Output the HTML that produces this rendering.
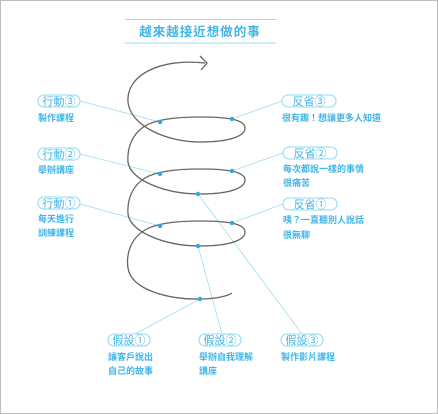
<!DOCTYPE html>
<html><head><meta charset="utf-8"><style>
html,body{margin:0;padding:0;background:#fff}
svg{display:block}
text{font-family:"Liberation Sans","Noto Sans CJK TC",sans-serif;fill:#3fb6e8}
.p{fill:#fff;stroke:#8fd8f5;stroke-width:1}
.l{stroke:#9fdcf4;stroke-width:0.8;fill:none}
.d{fill:#2aa9e6}
.t{font-size:9px;font-weight:bold}
.h{font-size:11px}
</style></head><body>
<svg width="438" height="414" viewBox="0 0 438 414">
<rect x="0.5" y="0.5" width="437" height="413" fill="#fff" stroke="#bdbdbd"/>
<line x1="125" y1="19.5" x2="276" y2="19.5" stroke="#9fdcf4"/>
<line x1="125" y1="43" x2="276" y2="43" stroke="#9fdcf4"/>
<text x="200" y="36" font-size="12.5" text-anchor="middle" letter-spacing="1" font-weight="bold">越來越接近想做的事</text>

<!-- connectors -->
<line class="l" x1="80" y1="101" x2="160" y2="122"/>
<line class="l" x1="80" y1="154" x2="160" y2="174"/>
<line class="l" x1="80" y1="204" x2="160" y2="226"/>
<line class="l" x1="282" y1="101" x2="232" y2="119"/>
<line class="l" x1="283" y1="153" x2="232" y2="171"/>
<line class="l" x1="283" y1="204" x2="232" y2="223"/>
<line class="l" x1="135" y1="334" x2="200" y2="299"/>
<line class="l" x1="222" y1="334" x2="198" y2="246"/>
<line class="l" x1="302" y1="334" x2="198" y2="194"/>

<!-- spiral -->
<path fill="none" stroke="#6b6560" stroke-width="1.3" d="M205,63 C160,58 126,75 128,102 C130,125 165,142 200,142 C230,142 245,136 245,128 C245,119 225,117 200,117 C175,117 155,120 145,126 C132,134 127,148 128,162 C130,180 165,194 200,194 C230,194 245,188 245,180 C245,171 225,169 200,169 C175,169 155,172 145,178 C132,186 127,200 128,214 C130,232 165,246 200,246 C230,246 245,240 245,232 C245,223 225,221 200,221 C175,221 155,224 145,230 C130,239 126,255 128,268 C131,290 170,300 200,299 C215,299 228,296 232,293"/>
<polyline points="200,56 207,63 201,70" fill="none" stroke="#6b6560" stroke-width="1.3"/>

<g class="d">
<circle cx="160" cy="122" r="2.2"/><circle cx="232" cy="119" r="2.2"/>
<circle cx="160" cy="174" r="2.2"/><circle cx="232" cy="171" r="2.2"/>
<circle cx="198" cy="194" r="2.2"/>
<circle cx="160" cy="226" r="2.2"/><circle cx="232" cy="223" r="2.2"/>
<circle cx="198" cy="246" r="2.2"/><circle cx="200" cy="299" r="2.2"/>
</g>

<!-- left pills -->
<rect class="p" x="38" y="95" width="42" height="12" rx="6"/><text class="h" x="59" y="105" text-anchor="middle">行動③</text>
<text class="t" x="38" y="121">製作課程</text>
<rect class="p" x="38" y="148" width="42" height="12" rx="6"/><text class="h" x="59" y="158" text-anchor="middle">行動②</text>
<text class="t" x="38" y="173">舉辦講座</text>
<rect class="p" x="38" y="197" width="42" height="12" rx="6"/><text class="h" x="59" y="207" text-anchor="middle">行動①</text>
<text class="t" x="38" y="222">每天進行</text>
<text class="t" x="38" y="236">訓練課程</text>

<!-- right pills -->
<rect class="p" x="282" y="95" width="54" height="12" rx="6"/><text class="h" x="309" y="105" text-anchor="middle">反省③</text>
<text class="t" x="282" y="121">很有趣！想讓更多人知道</text>
<rect class="p" x="283" y="147" width="54" height="12" rx="6"/><text class="h" x="310" y="157" text-anchor="middle">反省②</text>
<text class="t" x="283" y="172">每次都說一樣的事情</text>
<text class="t" x="283" y="186">很痛苦</text>
<rect class="p" x="283" y="198" width="54" height="12" rx="6"/><text class="h" x="310" y="208" text-anchor="middle">反省①</text>
<text class="t" x="283" y="223">咦？一直聽別人說話</text>
<text class="t" x="283" y="238">很無聊</text>

<!-- bottom pills -->
<rect class="p" x="108" y="334" width="42" height="12" rx="6"/><text class="h" x="129" y="344" text-anchor="middle">假設①</text>
<text class="t" x="108" y="360">讓客戶說出</text>
<text class="t" x="108" y="374">自己的故事</text>
<rect class="p" x="199" y="334" width="42" height="12" rx="6"/><text class="h" x="220" y="344" text-anchor="middle">假設②</text>
<text class="t" x="199" y="360">舉辦自我理解</text>
<text class="t" x="199" y="374">講座</text>
<rect class="p" x="281" y="334" width="42" height="12" rx="6"/><text class="h" x="302" y="344" text-anchor="middle">假設③</text>
<text class="t" x="281" y="360">製作影片課程</text>
</svg>
</body></html>
